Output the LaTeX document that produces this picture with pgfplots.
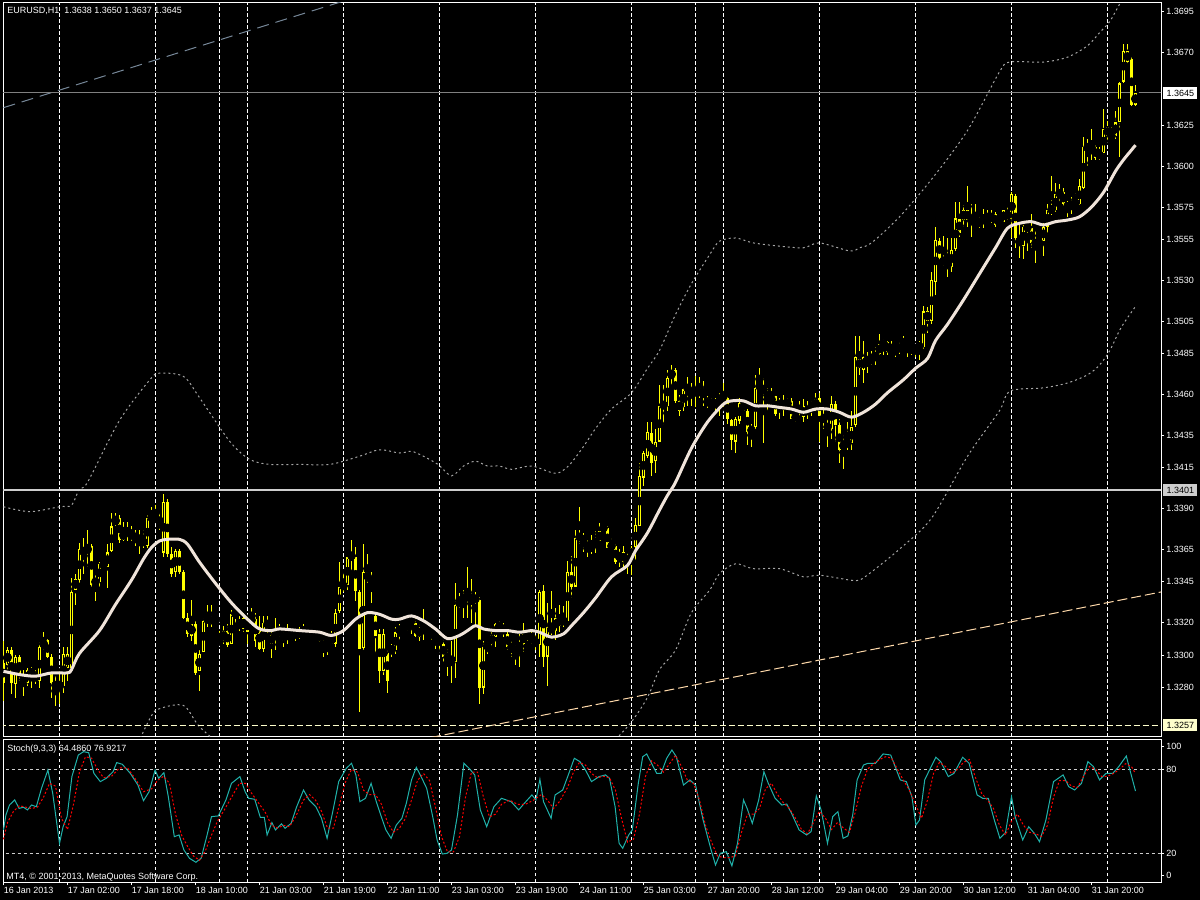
\documentclass[border=0pt]{standalone}
\usepackage{fontspec}
\setmainfont{Liberation Sans}
\usepackage{pgfplots}
\usepackage{pgfplotstable}
\pgfplotsset{compat=1.18}
\usetikzlibrary{calc}
\pgfdeclarelayer{background}
\pgfsetlayers{background,main}

\definecolor{candle}{RGB}{255,255,0}
\definecolor{maline}{RGB}{240,228,218}
\definecolor{band}{RGB}{165,165,165}
\definecolor{kline}{RGB}{32,178,170}
\definecolor{dline}{RGB}{255,0,0}
\definecolor{trendgrey}{RGB}{119,136,153}
\definecolor{trendpeach}{RGB}{255,218,170}
\definecolor{lvlyellow}{RGB}{255,255,204}
\definecolor{lvlgrey}{RGB}{205,205,205}
\newcommand\lbl{\fontsize{4.5}{5.4}\selectfont}

% EURUSD H1 bars: index, open, high, low, close
\pgfplotstableread{
i o h l c
0 1.3295 1.3309 1.3272 1.3283
1 1.3294 1.3305 1.3291 1.3303
2 1.3303 1.3305 1.3276 1.3283
3 1.3282 1.3300 1.3274 1.3299
4 1.3299 1.3300 1.3284 1.3287
5 1.3287 1.3291 1.3275 1.3283
6 1.3283 1.3292 1.3281 1.3291
7 1.3291 1.3293 1.3280 1.3288
8 1.3289 1.3291 1.3282 1.3284
9 1.3284 1.3308 1.3280 1.3305
10 1.3305 1.3314 1.3303 1.3309
11 1.3309 1.3310 1.3298 1.3299
12 1.3299 1.3301 1.3274 1.3283
13 1.3283 1.3287 1.3269 1.3280
14 1.3280 1.3291 1.3270 1.3283
15 1.3281 1.3305 1.3277 1.3301
16 1.3292 1.3305 1.3284 1.3301
17 1.3292 1.3347 1.3290 1.3339
18 1.3340 1.3350 1.3331 1.3347
19 1.3346 1.3369 1.3344 1.3365
20 1.3365 1.3372 1.3350 1.3362
21 1.3363 1.3377 1.3354 1.3367
22 1.3367 1.3368 1.3342 1.3343
23 1.3344 1.3350 1.3333 1.3346
24 1.3345 1.3357 1.3342 1.3356
25 1.3356 1.3358 1.3353 1.3355
26 1.3354 1.3368 1.3341 1.3363
27 1.3364 1.3387 1.3363 1.3379
28 1.3380 1.3387 1.3379 1.3385
29 1.3384 1.3386 1.3369 1.3371
30 1.3371 1.3382 1.3370 1.3376
31 1.3376 1.3382 1.3370 1.3375
32 1.3375 1.3379 1.3370 1.3373
33 1.3372 1.3377 1.3367 1.3371
34 1.3371 1.3377 1.3362 1.3372
35 1.3372 1.3377 1.3366 1.3367
36 1.3367 1.3386 1.3366 1.3384
37 1.3384 1.3391 1.3382 1.3385
38 1.3385 1.3392 1.3382 1.3383
39 1.3383 1.3387 1.3377 1.3382
40 1.3363 1.3399 1.3360 1.3394
41 1.3394 1.3396 1.3360 1.3362
42 1.3362 1.3366 1.3348 1.3350
43 1.3351 1.3365 1.3348 1.3364
44 1.3364 1.3365 1.3350 1.3351
45 1.3351 1.3352 1.3322 1.3323
46 1.3323 1.3326 1.3311 1.3313
47 1.3312 1.3334 1.3309 1.3319
48 1.3319 1.3321 1.3288 1.3289
49 1.3290 1.3303 1.3278 1.3301
50 1.3302 1.3323 1.3302 1.3321
51 1.3320 1.3331 1.3317 1.3324
52 1.3324 1.3331 1.3317 1.3319
53 1.3321 1.3324 1.3320 1.3321
54 1.3309 1.3315 1.3307 1.3308
55 1.3309 1.3318 1.3307 1.3315
56 1.3315 1.3319 1.3305 1.3306
57 1.3307 1.3328 1.3307 1.3325
58 1.3324 1.3330 1.3320 1.3327
59 1.3321 1.3324 1.3315 1.3316
60 1.3316 1.3326 1.3314 1.3323
61 1.3322 1.3324 1.3307 1.3314
62 1.3321 1.3329 1.3319 1.3322
63 1.3322 1.3326 1.3305 1.3309
64 1.3317 1.3324 1.3303 1.3304
65 1.3304 1.3324 1.3302 1.3320
66 1.3320 1.3324 1.3313 1.3318
67 1.3312 1.3315 1.3298 1.3307
68 1.3311 1.3323 1.3303 1.3313
69 1.3313 1.3319 1.3311 1.3316
70 1.3313 1.3315 1.3305 1.3309
71 1.3310 1.3319 1.3307 1.3314
72 1.3314 1.3318 1.3312 1.3315
73 1.3315 1.3316 1.3309 1.3311
74 1.3312 1.3317 1.3310 1.3314
75 1.3314 1.3319 1.3311 1.3313
76 1.3313 1.3316 1.3311 1.3314
77 1.3314 1.3315 1.3311 1.3312
78 1.3312 1.3315 1.3311 1.3314
79 1.3313 1.3315 1.3308 1.3309
80 1.3308 1.3309 1.3299 1.3305
81 1.3305 1.3309 1.3300 1.3307
82 1.3307 1.3315 1.3307 1.3312
83 1.3307 1.3328 1.3305 1.3326
84 1.3327 1.3357 1.3326 1.3342
85 1.3342 1.3350 1.3339 1.3343
86 1.3343 1.3361 1.3340 1.3360
87 1.3360 1.3371 1.3350 1.3362
88 1.3360 1.3366 1.3333 1.3339
89 1.3339 1.3340 1.3265 1.3304
90 1.3304 1.3368 1.3303 1.3351
91 1.3351 1.3362 1.3344 1.3346
92 1.3346 1.3351 1.3332 1.3345
93 1.3324 1.3325 1.3301 1.3312
94 1.3313 1.3316 1.3283 1.3290
95 1.3290 1.3316 1.3288 1.3313
96 1.3303 1.3304 1.3277 1.3284
97 1.3302 1.3307 1.3299 1.3305
98 1.3303 1.3317 1.3301 1.3314
99 1.3314 1.3319 1.3309 1.3317
100 1.3317 1.3318 1.3313 1.3315
101 1.3316 1.3322 1.3315 1.3320
102 1.3320 1.3324 1.3313 1.3323
103 1.3320 1.3324 1.3311 1.3312
104 1.3311 1.3319 1.3309 1.3317
105 1.3316 1.3328 1.3309 1.3315
106 1.3315 1.3318 1.3313 1.3317
107 1.3315 1.3317 1.3309 1.3312
108 1.3312 1.3313 1.3304 1.3309
109 1.3309 1.3314 1.3303 1.3310
110 1.3307 1.3309 1.3295 1.3299
111 1.3299 1.3304 1.3287 1.3298
112 1.3298 1.3309 1.3283 1.3296
113 1.3296 1.3344 1.3286 1.3331
114 1.3330 1.3338 1.3329 1.3334
115 1.3334 1.3340 1.3323 1.3336
116 1.3336 1.3354 1.3323 1.3337
117 1.3336 1.3347 1.3320 1.3334
118 1.3334 1.3339 1.3319 1.3335
119 1.3334 1.3336 1.3270 1.3280
120 1.3280 1.3309 1.3276 1.3307
121 1.3306 1.3308 1.3301 1.3305
122 1.3307 1.3314 1.3305 1.3312
123 1.3311 1.3320 1.3305 1.3319
124 1.3319 1.3321 1.3315 1.3317
125 1.3318 1.3320 1.3311 1.3313
126 1.3313 1.3315 1.3303 1.3305
127 1.3306 1.3309 1.3299 1.3304
128 1.3304 1.3306 1.3294 1.3302
129 1.3303 1.3313 1.3293 1.3308
130 1.3307 1.3320 1.3302 1.3313
131 1.3313 1.3315 1.3309 1.3312
132 1.3312 1.3315 1.3307 1.3309
133 1.3309 1.3312 1.3303 1.3307
134 1.3306 1.3340 1.3299 1.3339
135 1.3339 1.3343 1.3293 1.3299
136 1.3299 1.3332 1.3281 1.3317
137 1.3317 1.3339 1.3312 1.3315
138 1.3315 1.3329 1.3309 1.3323
139 1.3323 1.3331 1.3314 1.3318
140 1.3319 1.3330 1.3317 1.3323
141 1.3321 1.3358 1.3321 1.3351
142 1.3351 1.3361 1.3335 1.3342
143 1.3342 1.3377 1.3342 1.3372
144 1.3372 1.3391 1.3368 1.3373
145 1.3373 1.3375 1.3363 1.3369
146 1.3369 1.3371 1.3360 1.3365
147 1.3365 1.3374 1.3362 1.3367
148 1.3367 1.3376 1.3363 1.3371
149 1.3370 1.3381 1.3369 1.3376
150 1.3377 1.3380 1.3376 1.3379
151 1.3378 1.3379 1.3366 1.3366
152 1.3366 1.3372 1.3365 1.3368
153 1.3367 1.3369 1.3356 1.3357
154 1.3358 1.3365 1.3354 1.3363
155 1.3363 1.3367 1.3353 1.3357
156 1.3357 1.3363 1.3350 1.3360
157 1.3360 1.3367 1.3349 1.3366
158 1.3366 1.3384 1.3358 1.3380
159 1.3379 1.3418 1.3379 1.3410
160 1.3409 1.3425 1.3404 1.3424
161 1.3422 1.3443 1.3421 1.3437
162 1.3436 1.3443 1.3410 1.3418
163 1.3419 1.3439 1.3412 1.3431
164 1.3431 1.3466 1.3431 1.3453
165 1.3453 1.3466 1.3441 1.3454
166 1.3453 1.3475 1.3450 1.3470
167 1.3470 1.3478 1.3466 1.3475
168 1.3475 1.3476 1.3455 1.3456
169 1.3456 1.3460 1.3447 1.3450
170 1.3452 1.3464 1.3450 1.3463
171 1.3463 1.3471 1.3453 1.3465
172 1.3464 1.3467 1.3453 1.3459
173 1.3459 1.3471 1.3452 1.3464
174 1.3464 1.3471 1.3458 1.3459
175 1.3459 1.3468 1.3453 1.3463
176 1.3458 1.3459 1.3452 1.3453
177 1.3453 1.3458 1.3452 1.3454
178 1.3454 1.3458 1.3450 1.3455
179 1.3454 1.3461 1.3447 1.3458
180 1.3458 1.3467 1.3452 1.3460
181 1.3458 1.3459 1.3442 1.3445
182 1.3444 1.3445 1.3426 1.3432
183 1.3431 1.3446 1.3424 1.3445
184 1.3444 1.3458 1.3442 1.3455
185 1.3455 1.3456 1.3449 1.3450
186 1.3450 1.3451 1.3429 1.3437
187 1.3437 1.3442 1.3428 1.3439
188 1.3440 1.3472 1.3439 1.3464
189 1.3464 1.3476 1.3463 1.3466
190 1.3465 1.3470 1.3430 1.3461
191 1.3461 1.3464 1.3450 1.3458
192 1.3458 1.3464 1.3455 1.3456
193 1.3459 1.3460 1.3447 1.3448
194 1.3452 1.3458 1.3445 1.3456
195 1.3455 1.3460 1.3447 1.3453
196 1.3454 1.3458 1.3452 1.3455
197 1.3456 1.3458 1.3445 1.3445
198 1.3445 1.3450 1.3443 1.3447
199 1.3450 1.3456 1.3446 1.3452
200 1.3453 1.3457 1.3443 1.3446
201 1.3448 1.3456 1.3445 1.3452
202 1.3452 1.3456 1.3447 1.3453
203 1.3452 1.3461 1.3450 1.3457
204 1.3458 1.3461 1.3431 1.3447
205 1.3447 1.3452 1.3439 1.3443
206 1.3442 1.3446 1.3428 1.3438
207 1.3439 1.3459 1.3433 1.3454
208 1.3454 1.3456 1.3431 1.3441
209 1.3441 1.3445 1.3418 1.3426
210 1.3426 1.3435 1.3414 1.3431
211 1.3431 1.3443 1.3426 1.3429
212 1.3430 1.3450 1.3426 1.3440
213 1.3441 1.3496 1.3440 1.3483
214 1.3482 1.3496 1.3472 1.3476
215 1.3475 1.3493 1.3467 1.3483
216 1.3482 1.3486 1.3473 1.3480
217 1.3480 1.3487 1.3478 1.3482
218 1.3481 1.3489 1.3478 1.3486
219 1.3485 1.3497 1.3484 1.3491
220 1.3491 1.3494 1.3484 1.3492
221 1.3492 1.3493 1.3484 1.3486
222 1.3486 1.3493 1.3484 1.3487
223 1.3487 1.3490 1.3483 1.3489
224 1.3489 1.3492 1.3485 1.3488
225 1.3488 1.3496 1.3488 1.3492
226 1.3492 1.3493 1.3483 1.3489
227 1.3489 1.3491 1.3484 1.3488
228 1.3488 1.3491 1.3483 1.3489
229 1.3489 1.3493 1.3481 1.3490
230 1.3489 1.3514 1.3488 1.3511
231 1.3511 1.3514 1.3498 1.3505
232 1.3505 1.3535 1.3503 1.3530
233 1.3529 1.3563 1.3521 1.3555
234 1.3554 1.3556 1.3542 1.3544
235 1.3543 1.3557 1.3539 1.3541
236 1.3542 1.3556 1.3532 1.3537
237 1.3538 1.3556 1.3535 1.3549
238 1.3549 1.3578 1.3548 1.3568
239 1.3568 1.3578 1.3557 1.3559
240 1.3567 1.3576 1.3563 1.3573
241 1.3573 1.3588 1.3563 1.3567
242 1.3567 1.3577 1.3557 1.3566
243 1.3566 1.3577 1.3562 1.3563
244 1.3564 1.3569 1.3562 1.3567
245 1.3566 1.3574 1.3562 1.3569
246 1.3568 1.3573 1.3565 1.3567
247 1.3567 1.3573 1.3565 1.3570
248 1.3571 1.3572 1.3563 1.3564
249 1.3564 1.3569 1.3563 1.3567
250 1.3566 1.3573 1.3565 1.3573
251 1.3572 1.3575 1.3567 1.3568
252 1.3568 1.3584 1.3556 1.3583
253 1.3582 1.3583 1.3550 1.3556
254 1.3556 1.3564 1.3544 1.3551
255 1.3551 1.3564 1.3543 1.3563
256 1.3563 1.3565 1.3548 1.3562
257 1.3562 1.3571 1.3550 1.3553
258 1.3554 1.3561 1.3541 1.3552
259 1.3551 1.3555 1.3549 1.3554
260 1.3554 1.3565 1.3545 1.3563
261 1.3563 1.3577 1.3558 1.3573
262 1.3573 1.3594 1.3570 1.3574
263 1.3573 1.3590 1.3572 1.3583
264 1.3583 1.3589 1.3578 1.3584
265 1.3584 1.3587 1.3576 1.3577
266 1.3577 1.3579 1.3569 1.3574
267 1.3574 1.3581 1.3571 1.3578
268 1.3578 1.3584 1.3575 1.3577
269 1.3577 1.3592 1.3576 1.3588
270 1.3587 1.3618 1.3586 1.3612
271 1.3612 1.3617 1.3600 1.3611
272 1.3611 1.3623 1.3604 1.3612
273 1.3612 1.3613 1.3604 1.3605
274 1.3606 1.3612 1.3604 1.3608
275 1.3608 1.3635 1.3607 1.3623
276 1.3624 1.3628 1.3616 1.3619
277 1.3618 1.3624 1.3616 1.3619
278 1.3619 1.3634 1.3617 1.3627
279 1.3627 1.3652 1.3606 1.3651
280 1.3652 1.3675 1.3651 1.3671
281 1.3671 1.3675 1.3663 1.3664
282 1.3666 1.3667 1.3637 1.3638
283 1.3638 1.3650 1.3637 1.3645
}\candles

\begin{document}
\begin{tikzpicture}

% ---------------- price window ----------------
% prices are plotted as pips above 1.3000 (y filter) to keep TeX precise
\begin{axis}[
    name=main, at={(0,0)}, anchor=south west,
    scale only axis, width=579pt, height=367pt,
    xmin=-0.125, xmax=289.375,
    ymin=249.67, ymax=700.25,
    y filter/.code={\pgfmathparse{(\pgfmathresult-1.3)*10000}},
    clip mode=individual,
    axis line style={white, line width=0.5pt},
    xtick=\empty,
    extra x ticks={14,38,54,61,85,109,133,157,173,180,204,228,252,276},
    extra x tick labels={},
    extra x tick style={grid=major, major tick length=0pt},
    major grid style={white, line width=0.5pt, dash pattern=on 1.75pt off 1.25pt},
    ytick={695,670,625,600,575,555,530,505,485,460,435,415,390,365,345,320,300,280},
    yticklabels={1.3695,1.3670,1.3625,1.3600,1.3575,1.3555,1.3530,1.3505,1.3485,1.3460,1.3435,1.3415,1.3390,1.3365,1.3345,1.3320,1.3300,1.3280},
    ytick pos=right, yticklabel pos=right,
    tick align=outside, major tick length=1.5pt,
    tick style={white, line width=0.5pt},
    tick label style={font=\lbl, text=white},
    yticklabel style={anchor=west, inner sep=0pt, xshift=1pt},
]
% Bollinger bands
\addplot[band, line width=0.5pt, dash pattern=on 1pt off 1.5pt, smooth] coordinates {
(0,1.3391) (6.6,1.3388) (14,1.3391) (17,1.3392) (19,1.3402) (21,1.3406) (29,1.3444)
(36.6,1.3469) (39,1.3473) (45,1.3471) (49,1.3458) (56.6,1.3431) (61.6,1.3420) (66.6,1.3417)
(74,1.3417) (81.6,1.3417) (89,1.3422) (94,1.3426) (99,1.3424) (102,1.3425) (105,1.3422)
(108.6,1.3417) (112,1.3410) (115,1.3416) (118,1.3419) (121,1.3416) (124,1.3416) (127,1.3414)
(132,1.3416) (137,1.3412) (139,1.3412) (141.6,1.3417) (145,1.3428) (148,1.3439) (152,1.3451)
(157,1.3461) (161,1.3476) (164,1.3487) (168,1.3509) (172,1.3528) (176.6,1.3546) (179,1.3554)
(183,1.3556) (187.4,1.3553) (194,1.3551) (200,1.3550) (204,1.3553) (211.6,1.3548) (214,1.3550)
(217,1.3553) (224,1.3569) (232,1.3592) (241,1.3622) (249,1.3658) (251.6,1.3664) (260,1.3664)
(266,1.3667) (271,1.3674) (274,1.3682) (276.6,1.3689) (279.4,1.3701) (283,1.3712)};
\addplot[band, line width=0.5pt, dash pattern=on 1pt off 1.5pt, smooth] coordinates {
(0,1.3189) (6.6,1.3188) (14,1.3187) (17,1.3190) (19,1.3200) (21,1.3208) (29,1.3224)
(36.6,1.3261) (39,1.3267) (45,1.3269) (49,1.3256) (56.6,1.3239) (61.6,1.3222) (66.6,1.3213)
(74,1.3213) (81.6,1.3207) (89,1.3224) (94,1.3224) (99,1.3220) (105,1.3220) (112,1.3212)
(118,1.3217) (124,1.3214) (132,1.3214) (139,1.3212) (145,1.3224) (148,1.3231) (152,1.3245)
(157,1.3259) (161,1.3274) (164,1.3291) (168,1.3303) (172,1.3326) (176.6,1.3340) (179,1.3350)
(183,1.3356) (187.4,1.3353) (194,1.3353) (200,1.3348) (204,1.3349) (211.6,1.3346) (214,1.3346)
(217,1.3351) (224,1.3365) (232,1.3384) (241,1.3422) (249,1.3450) (251.6,1.3462) (260,1.3464)
(266,1.3467) (271,1.3472) (274,1.3478) (276.6,1.3487) (279.4,1.3501) (283,1.3514)};
% trend lines
\addplot[trendgrey, line width=0.5pt, dash pattern=on 6pt off 3.5pt] coordinates {(0,1.3636) (100,1.3713)};
\addplot[trendpeach, line width=0.5pt, dash pattern=on 5pt off 2pt] coordinates {(100,1.3246) (290,1.3339)};
% horizontal levels
\addplot[gray, line width=0.5pt] coordinates {(-1,1.3645) (300,1.3645)};
\addplot[lvlgrey, line width=1pt] coordinates {(-1,1.3401) (300,1.3401)};
\addplot[lvlyellow, line width=0.5pt, dash pattern=on 3pt off 1.5pt] coordinates {(-1,1.3257) (300,1.3257)};
% candles: wicks, bodies, hollow interior of rising bars (error sizes in pips)
\addplot[only marks, mark=none,
    error bars/.cd, y dir=both, y explicit, error mark=none,
    error bar style={draw=candle, line width=0.6pt, solid}]
  table[x=i, y expr={(\thisrow{h}+\thisrow{l})/2}, y error expr={(\thisrow{h}-\thisrow{l})*5000}] {\candles};
\addplot[only marks, mark=none,
    error bars/.cd, y dir=both, y explicit, error mark=none,
    error bar style={draw=candle, line width=1.7pt, solid}]
  table[x=i, y expr={(\thisrow{o}+\thisrow{c})/2}, y error expr={max(abs(\thisrow{c}-\thisrow{o})*5000,0.3)}] {\candles};
\addplot[only marks, mark=none,
    restrict expr to domain={\thisrow{c}-\thisrow{o}}{0.00025:1},
    error bars/.cd, y dir=both, y explicit, error mark=none,
    error bar style={draw=black, line width=0.55pt, solid}]
  table[x=i, y expr={(\thisrow{o}+\thisrow{c})/2}, y error expr={(\thisrow{c}-\thisrow{o})*5000-0.7}] {\candles};
% moving average
\addplot[maline, line width=1.5pt, smooth] coordinates {
(0,1.3290) (4,1.3288) (8,1.3287) (12,1.3289) (16,1.3289) (17,1.3291) (19,1.3301) (24,1.3315)
(28,1.3331) (32,1.3346) (35,1.3359) (37,1.3366) (39,1.3370) (41,1.3371) (44,1.3371) (46,1.3368)
(49,1.3357) (53,1.3344) (57,1.3332) (61,1.3322) (64,1.3316) (67,1.3315) (69,1.3316) (74,1.3315)
(79,1.3314) (82,1.3312) (85,1.3315) (88,1.3322) (91,1.3326) (94,1.3325) (97,1.3322) (99,1.3322)
(102,1.3324) (105,1.3321) (108,1.3316) (111,1.3310) (114,1.3312) (116,1.3315) (118,1.3318)
(120,1.3316) (123,1.3315) (126,1.3315) (129,1.3314) (132,1.3315) (134,1.3314) (137,1.3311)
(140,1.3313) (142,1.3318) (145,1.3326) (148,1.3335) (152,1.3348) (156,1.3355) (158,1.3364)
(161,1.3375) (164,1.3389) (166,1.3398) (168,1.3406) (172,1.3427) (176,1.3443) (180,1.3454)
(182,1.3456) (185,1.3456) (188,1.3453) (191,1.3453) (194,1.3452) (197,1.3451) (200,1.3449)
(203,1.3451) (206,1.3451) (209,1.3449) (212,1.3446) (215,1.3449) (218,1.3454) (221,1.3461)
(225,1.3469) (228,1.3476) (231,1.3482) (233,1.3493) (236,1.3503) (240,1.3518) (244,1.3534)
(248,1.3550) (251,1.3562) (254,1.3565) (257,1.3566) (260,1.3564) (263,1.3566) (266,1.3567)
(269,1.3569) (272,1.3575) (275,1.3584) (278,1.3597) (280,1.3604) (282,1.3610) (283,1.3613)};
% price boxes on the scale (1.3645, 1.3401, 1.3257)
\node[fill=white, text=black, font=\lbl, inner sep=0pt, minimum width=17pt, minimum height=6pt, anchor=west, xshift=1pt]
  at (axis cs:289.375,645) {1.3645};
\node[fill=lvlgrey, text=black, font=\lbl, inner sep=0pt, minimum width=17pt, minimum height=6pt, anchor=west, xshift=1pt]
  at (axis cs:289.375,401) {1.3401};
\node[fill=lvlyellow, text=black, font=\lbl, inner sep=0pt, minimum width=17pt, minimum height=6pt, anchor=west, xshift=1pt]
  at (axis cs:289.375,257) {1.3257};
\end{axis}

% ---------------- stochastic window ----------------
\begin{axis}[
    name=stoch, at={(main.south west)}, anchor=north west, yshift=-1.25pt,
    scale only axis, width=579pt, height=71.25pt,
    xmin=-0.125, xmax=289.375, ymin=-0.5, ymax=101.3,
    axis line style={white, line width=0.5pt},
    xtick={0,16,...,272},
    xticklabels={16 Jan 2013,17 Jan 02:00,17 Jan 18:00,18 Jan 10:00,21 Jan 03:00,21 Jan 19:00,22 Jan 11:00,23 Jan 03:00,23 Jan 19:00,24 Jan 11:00,25 Jan 03:00,27 Jan 20:00,28 Jan 12:00,29 Jan 04:00,29 Jan 20:00,30 Jan 12:00,31 Jan 04:00,31 Jan 20:00},
    xtick pos=bottom,
    extra x ticks={14,38,54,61,85,109,133,157,173,180,204,228,252,276},
    extra x tick labels={},
    extra x tick style={grid=major, major tick length=0pt},
    major grid style={white, line width=0.5pt, dash pattern=on 1.75pt off 1.25pt},
    ytick={4.5,20,80,96.6}, yticklabels={0,20,80,100},
    ytick pos=right, yticklabel pos=right,
    tick align=outside, major tick length=1.5pt,
    tick style={white, line width=0.5pt},
    tick label style={font=\lbl, text=white},
    yticklabel style={anchor=west, inner sep=0pt, xshift=1pt},
    xticklabel style={anchor=north west, inner sep=0pt, yshift=-1pt},
]
\addplot[white!80!black, line width=0.5pt, dash pattern=on 1.5pt off 1.5pt] coordinates {(-1,80) (300,80)};
\addplot[white!80!black, line width=0.5pt, dash pattern=on 1.5pt off 1.5pt] coordinates {(-1,20) (300,20)};
% %K
\addplot[kline, line width=0.5pt] coordinates {
(0,36.7) (0.6,47.4) (1.5,54.5) (2.8,58.1) (3.9,52.1) (5,52.9) (6,51.0) (7,54.5) (8.2,53.3)
(9.5,66.4) (11.1,79.5) (12.3,62.9) (14,27.1) (14.9,39.0) (15.9,46.2) (17.1,74.8) (18.7,90.2)
(20,92.6) (21.3,91.9) (22.6,77.1) (24.2,71.2) (25.7,73.6) (27.4,78.3) (28.3,84.8) (29.7,83.6)
(31.7,77.1) (33.6,68.8) (35,57.6) (36.4,64) (37.9,79.5) (38.8,73.6) (40.1,77.6) (41.2,60.5)
(42.7,31.9) (43.9,33.1) (45.1,22.4) (46.5,16.4) (48.1,13.6) (49.4,16.4) (50.8,31.9) (52,46.2)
(53.7,46.7) (55.6,58.1) (57,70) (59.1,74.8) (60.4,64) (61.3,59.3) (62.8,58.6) (64.2,45.7)
(65.2,45.7) (65.9,33.1) (67.1,41.9) (68,36.7) (69.5,41) (70.4,37.9) (71.9,41.4) (73.3,53.3)
(75,65.2) (76.4,58.1) (78.1,53.3) (79.5,45) (80.9,30.7) (82.4,51) (83.8,71.2) (85.7,80.7)
(87,84.3) (88.1,76) (89.1,56.9) (90.5,59.3) (91.9,70) (93.2,56.9) (94.3,47.4) (95.6,36.7)
(96.9,30.7) (98.2,40.2) (99.6,45) (100.7,55.7) (102,72.4) (103.2,81.4) (104.4,74.8) (105.8,66.4)
(107.3,46.2) (108.4,29.5) (109.7,19.5) (110.9,20) (112,22.4) (113.5,47.4) (115.1,84.3)
(116.4,80.7) (117.8,76) (119.2,51) (120.8,39) (122.6,53.3) (124.5,59.3) (126.9,56.9) (128.8,51)
(130.2,55.7) (132.1,61.7) (133.1,58.1) (134.1,72.9) (135,56.9) (136.9,45) (137.9,61.7)
(139.8,65.2) (141.2,76) (142.7,87.9) (144.1,85.5) (145.5,79.5) (147,71.2) (148.9,74.8)
(150.5,76) (151.5,73.6) (152.9,53.3) (153.9,27.1) (154.8,23.6) (156.3,33.1) (157.2,36.7)
(158.7,70) (159.8,89) (160.8,91) (162,84.3) (163.3,77.1) (164.4,77.1) (165.8,87.9) (167.1,93.8)
(168.2,89) (170,68.8) (171.6,72.4) (173,68.8) (174.9,43.8) (176.9,22.4) (178,11.7) (179.2,20)
(180.7,21.2) (182.1,11) (183.5,27.1) (185,58.1) (185.9,52.1) (187.2,41.4) (188.8,58.1)
(190.1,78.3) (191.2,70) (192.9,59.3) (194.6,54.5) (195.8,55.2) (197,48.6) (198.9,36.7)
(200.8,33.1) (201.9,35.5) (203.2,61) (204.4,51) (206,27.1) (207.3,46.2) (208.6,49.8)
(209.9,30.7) (211.1,32.4) (212.3,47.4) (213.4,72.4) (215,83.1) (216.1,84.3) (218,84.3)
(219.9,91) (221.8,90.2) (224.2,72.4) (225.7,71.2) (227.1,60.5) (228.1,40.2) (229,43.8)
(230.3,72.4) (231.9,81.9) (233.1,88.6) (234.3,85.5) (236.2,74.8) (237.6,77.1) (239.8,88.6)
(241.4,84.3) (243.4,61.7) (244.8,59.3) (246.2,59.3) (247.7,43.8) (249.1,30.7) (250.5,34.8)
(252,60.5) (252.9,46.2) (254.8,29.5) (256.3,39) (257.7,34.3) (259,28.3) (260.6,43.8)
(262.5,71.2) (264.9,76) (266.3,67.6) (267.8,65.2) (269.5,70) (271.1,85.5) (272.5,81.9)
(274,72.4) (275.6,77.1) (277.3,77.1) (278.8,81.9) (280.7,89.5) (281.6,79.5) (283,64.5)};
% %D
\addplot[dline, line width=0.5pt, dash pattern=on 1pt off 1pt] coordinates {
(0,30) (1,42) (2.5,50) (4,54) (5.5,53) (7,52) (8.5,53) (10,60) (11.5,70) (13,68) (14.5,45)
(16,37) (17.5,55) (19,78) (20.5,89) (22,88) (23.5,80) (25,74) (27,75) (29,81) (31,81) (33,73)
(35,64) (37,66) (38.5,72) (40,75) (41.5,70) (43,48) (44.5,33) (46,25) (47.5,18) (49,15)
(50.5,22) (52,33) (53.5,43) (55,50) (57,60) (59,70) (60.5,70) (62,63) (64,55) (65.5,49) (67,40)
(68.5,38) (70,40) (71.5,39) (73,46) (75,58) (76.5,62) (78,58) (79.5,50) (81,38) (82.5,38)
(84,55) (85.5,71) (87,80) (88.5,78) (90,65) (91.5,62) (93,62) (94.5,55) (96,42) (97.5,35)
(99,38) (100.5,45) (102,58) (103.5,72) (105,77) (106.5,72) (108,53) (109.5,32) (111,21)
(112.5,21) (114,32) (115.5,60) (117,78) (118.5,78) (120,60) (121.5,46) (123,48) (124.5,55)
(126.5,58) (128.5,55) (130.5,55) (132.5,58) (134.5,62) (136,58) (137.5,52) (139,57) (141,67)
(142.5,78) (144,85) (145.5,83) (147,77) (148.5,74) (150,75) (151.5,74) (153,65) (154.5,45)
(156,28) (157.5,30) (159,48) (160.5,75) (162,86) (163.5,83) (165,78) (166.5,84) (168,90)
(169.5,82) (171,72) (172.5,70) (174,58) (175.5,40) (177,28) (178.5,18) (180,17) (181.5,17)
(183,18) (184.5,35) (186,48) (187.5,48) (189,52) (190.5,66) (192,70) (193.5,62) (195,56)
(196.5,52) (198,45) (199.5,37) (201,34) (202.5,42) (204,50) (205.5,45) (207,37) (208.5,42)
(210,38) (211.5,35) (213,50) (214.5,68) (216,80) (217.5,84) (219,87) (220.5,89) (222,88)
(223.5,80) (225,72) (226.5,65) (228,55) (229.5,45) (231,58) (232.5,77) (234,85) (235.5,82)
(237,77) (238.5,80) (240,85) (241.5,87) (243,74) (244.5,63) (246,58) (247.5,52) (249,40)
(250.5,33) (252,43) (253.5,48) (255,40) (256.5,35) (258,34) (259.5,32) (261,40) (262.5,60)
(264,72) (265.5,72) (267,68) (268.5,67) (270,75) (271.5,82) (273,80) (274.5,75) (276,75)
(277.5,77) (279,80) (280.5,84) (282,82) (283,76.9)};
\end{axis}

% window captions, placed relative to the two windows
\node[anchor=base west, inner sep=0pt, font=\lbl, text=white] at ($(main.north west)+(2pt,-5.5pt)$) {EURUSD,H1\ \ 1.3638 1.3650 1.3637 1.3645};
\node[anchor=base west, inner sep=0pt, font=\lbl, text=white] at ($(stoch.north west)+(2pt,-6.25pt)$) {Stoch(9,3,3) 64.4860 76.9217};
\node[anchor=base west, inner sep=0pt, font=\lbl, text=white] at ($(stoch.south west)+(1.5pt,1.5pt)$) {MT4, © 2001-2013, MetaQuotes Software Corp.};

% black page behind everything, which also fixes the picture size
\begin{pgfonlayer}{background}
\fill[black] ($(main.north west)+(-1.5pt,1.5pt)$) rectangle ($(stoch.south east)+(19.5pt,-9pt)$);
\end{pgfonlayer}
\pgfresetboundingbox
\useasboundingbox ($(main.north west)+(-1.5pt,1.5pt)$) rectangle ($(stoch.south east)+(19.5pt,-9pt)$);
\end{tikzpicture}
\end{document}
